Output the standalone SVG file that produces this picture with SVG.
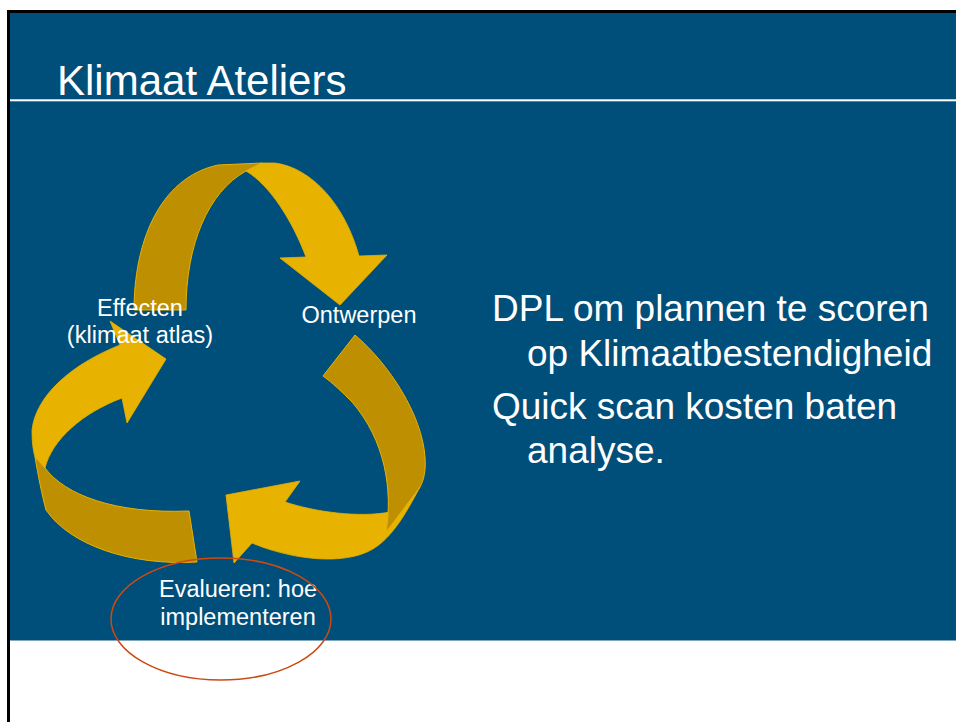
<svg xmlns="http://www.w3.org/2000/svg" width="956" height="722" viewBox="0 0 956 722">
<style>
.lbl{font-family:"Liberation Sans",Arial,sans-serif;fill:#ffffff}
.small{font-size:23.5px;text-anchor:middle}
.body{font-size:37px}
.face{fill:#E8B200;stroke:#E8B200;stroke-width:0.8}
.side{fill:#BE8F00;stroke:#E8B200;stroke-width:1}
</style>
<rect x="0" y="0" width="956" height="722" fill="#ffffff"/>
<rect x="10" y="13" width="946" height="627.5" fill="#004E7A"/>
<path d="M8.5,722 L8.5,11.5 L956,11.5" fill="none" stroke="#000000" stroke-width="3"/>
<rect x="10" y="99.3" width="946" height="2" fill="#ffffff"/>
<text class="lbl" x="57" y="95" font-size="42">Klimaat Ateliers</text>
<g id="body-text" class="lbl body">
<text x="492" y="321">DPL om plannen te scoren</text>
<text x="527" y="366">op Klimaatbestendigheid</text>
<text x="492" y="419">Quick scan kosten baten</text>
<text x="527" y="463">analyse.</text>
</g>
<g id="connectors">
<g id="arrow-effecten-ontwerpen">
<path class="side" d="M134,310 C134,245 158,178 218,165 L262,163 L246,171 C208,192 186,245 186,310 Z"/>
<path class="face" d="M246,171 L262,163 L275,163 C312,168 345,205 359,256 L387,255 L340,305 L280,258 L306,257 C293,222 270,185 246,171 Z"/>
</g>
<g id="arrow-ontwerpen-evalueren">
<path class="face" d="M386,532 L390,512 C360,518 315,512 285,502 L300,481 L226,495 L234,563 L252,543 C285,557 335,566 367,552 C390,542 405,515 420,487 Z"/>
<path class="side" d="M355,335 C390,365 422,415 425,457 C426,470 424,480 420,487 L386,532 C393,490 385,440 352,402 C342,392 333,383 323,376 Z"/>
</g>
<g id="arrow-evalueren-effecten">
<path class="face" d="M45,468 C52,440 82,413 122,398 L127,423 L166,359 L110,321 L120,345 C72,364 36,395 32,430 C32,442 33,450 35,457 Z"/>
<path class="side" d="M35,457 L45,468 C65,495 115,514 189,511 L197,562 C130,566 70,545 46,510 C42,495 38,475 35,457 Z"/>
</g>
</g>
<g id="node-effecten" class="lbl small">
<text x="140" y="316">Effecten</text>
<text x="140" y="343">(klimaat atlas)</text>
</g>
<g id="node-ontwerpen" class="lbl small">
<text x="359" y="323">Ontwerpen</text>
</g>
<g id="node-evalueren">
<g class="lbl small">
<text x="238" y="597">Evalueren: hoe</text>
<text x="238" y="625">implementeren</text>
</g>
<ellipse cx="221" cy="619" rx="110" ry="61" fill="none" stroke="#CC4A14" stroke-width="1.5"/>
</g>
</svg>
